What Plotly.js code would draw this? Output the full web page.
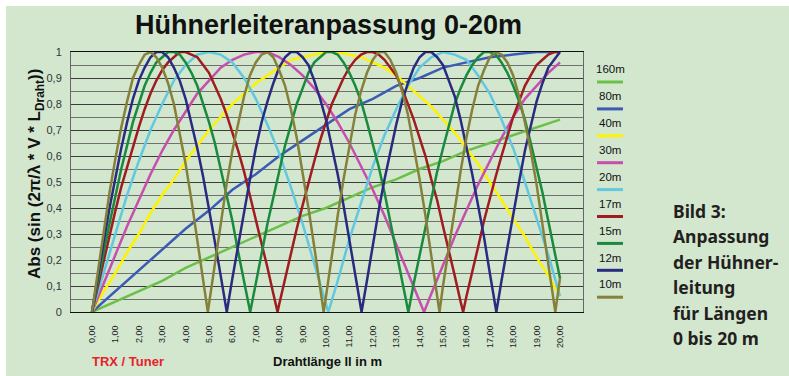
<!DOCTYPE html>
<html><head><meta charset="utf-8">
<script src="https://cdn.plot.ly/plotly-3.0.1.min.js"></script>
<style>
html,body{margin:0;padding:0;background:#ffffff;width:789px;height:376px;overflow:hidden}
#chart{position:absolute;left:6px;top:6px;width:783px;height:370px}
</style>
</head><body><div id="chart"></div><script>
// ---- data ----
const bands  = ['160m','80m','40m','30m','20m','17m','15m','12m','10m'];
const colors = ['#6cc04a','#3b5bb5','#fff200','#c64fae','#62c8e0','#a01c20','#1a8a3e','#2a2b80','#85803a'];

const xStep1 = [0,1,2,3,4,5,6,7,8,9,10,11,12,13,14,15,16,17,18,19,20];
const xStep05 = [0,0.5,1,1.5,2,2.5,3,3.5,4,4.5,5,5.5,6,6.5,7,7.5,8,8.5,9,9.5,10,10.5,11,11.5,12,12.5,13,13.5,14,14.5,15,15.5,16,16.5,17,17.5,18,18.5,19,19.5,20];
const xStep025 = [0,0.25,0.5,0.75,1,1.25,1.5,1.75,2,2.25,2.5,2.75,3,3.25,3.5,3.75,4,4.25,4.5,4.75,5,5.25,5.5,5.75,6,6.25,6.5,6.75,7,7.25,7.5,7.75,8,8.25,8.5,8.75,9,9.25,9.5,9.75,10,10.25,10.5,10.75,11,11.25,11.5,11.75,12,12.25,12.5,12.75,13,13.25,13.5,13.75,14,14.25,14.5,14.75,15,15.25,15.5,15.75,16,16.25,16.5,16.75,17,17.25,17.5,17.75,18,18.25,18.5,18.75,19,19.25,19.5,19.75,20];

const y160m = [0,0.04,0.08,0.12,0.17,0.21,0.25,0.29,0.33,0.37,0.40,0.44,0.48,0.51,0.55,0.58,0.62,0.65,0.68,0.71,0.74];
const y80m  = [0,0.08,0.16,0.24,0.32,0.39,0.47,0.53,0.60,0.66,0.72,0.78,0.82,0.87,0.90,0.94,0.96,0.98,0.99,1.00,1.00];
const y40m  = [0,0.08,0.15,0.23,0.30,0.38,0.45,0.51,0.58,0.64,0.70,0.75,0.80,0.84,0.88,0.91,0.94,0.97,0.98,0.99,
               1.00,1.00,0.99,0.98,0.96,0.94,0.91,0.87,0.83,0.79,0.74,0.69,0.63,0.57,0.50,0.43,0.36,0.29,0.21,0.14,0.06];
const y30m  = [0,0.11,0.22,0.33,0.43,0.53,0.62,0.70,0.77,0.84,0.89,0.94,0.97,0.99,1.00,1.00,0.98,0.95,0.91,0.86,
               0.80,0.73,0.65,0.56,0.47,0.37,0.26,0.15,0.04,0.07,0.18,0.29,0.39,0.49,0.58,0.67,0.75,0.82,0.87,0.92,0.96];
const y20m  = [0,0.15,0.31,0.45,0.58,0.70,0.80,0.89,0.95,0.99,1.00,0.99,0.96,0.90,0.82,0.72,0.61,0.48,0.34,0.19,
               0.03,0.12,0.28,0.42,0.56,0.68,0.78,0.87,0.94,0.98,1.00,0.99,0.97,0.91,0.84,0.74,0.63,0.50,0.36,0.22,0.06];
const y17m  = [0,0.10,0.20,0.29,0.39,0.48,0.56,0.64,0.71,0.78,0.84,0.89,0.93,0.96,0.98,1.00,1.00,0.99,0.98,0.95,
               0.92,0.87,0.82,0.76,0.69,0.62,0.54,0.45,0.36,0.27,0.17,0.07,0.03,0.13,0.22,0.32,0.41,0.50,0.58,0.66,
               0.73,0.80,0.85,0.90,0.94,0.97,0.99,1.00,1.00,0.99,0.97,0.94,0.91,0.86,0.80,0.74,0.67,0.60,0.51,0.43,
               0.33,0.24,0.14,0.04,0.06,0.15,0.25,0.35,0.44,0.52,0.60,0.68,0.75,0.81,0.87,0.91,0.95,0.97,0.99,1.00,1.00];
const y15m  = [0,0.12,0.23,0.34,0.45,0.55,0.64,0.73,0.80,0.87,0.92,0.96,0.98,1.00,1.00,0.99,0.96,0.92,0.87,0.80,
               0.73,0.65,0.55,0.45,0.35,0.23,0.12,0.00,0.11,0.23,0.34,0.44,0.54,0.64,0.72,0.80,0.86,0.92,0.96,0.98,
               1.00,1.00,0.99,0.96,0.92,0.87,0.81,0.73,0.65,0.56,0.46,0.35,0.24,0.12,0.01,0.11,0.22,0.33,0.44,0.54,
               0.63,0.72,0.80,0.86,0.91,0.95,0.98,1.00,1.00,0.99,0.96,0.92,0.87,0.81,0.74,0.65,0.56,0.46,0.35,0.24,0.13];
const y12m  = [0,0.14,0.27,0.40,0.52,0.63,0.73,0.82,0.89,0.94,0.98,1.00,1.00,0.98,0.94,0.89,0.82,0.73,0.63,0.52,
               0.40,0.27,0.14,0.01,0.13,0.26,0.39,0.51,0.63,0.73,0.81,0.88,0.94,0.98,1.00,1.00,0.98,0.95,0.89,0.82,
               0.74,0.64,0.53,0.41,0.28,0.15,0.01,0.12,0.26,0.39,0.51,0.62,0.72,0.81,0.88,0.94,0.98,1.00,1.00,0.98,
               0.95,0.89,0.83,0.74,0.64,0.53,0.41,0.29,0.15,0.02,0.12,0.25,0.38,0.50,0.62,0.72,0.81,0.88,0.94,0.97,1.00];
const y10m  = [0,0.16,0.31,0.46,0.59,0.71,0.81,0.90,0.95,0.99,1.00,0.98,0.94,0.88,0.80,0.69,0.57,0.43,0.28,0.13,
               0.03,0.19,0.34,0.49,0.62,0.73,0.83,0.91,0.96,0.99,1.00,0.98,0.93,0.87,0.78,0.67,0.54,0.40,0.25,0.10,
               0.06,0.22,0.37,0.51,0.64,0.76,0.85,0.92,0.97,1.00,1.00,0.97,0.92,0.85,0.76,0.64,0.51,0.37,0.22,0.06,
               0.10,0.25,0.40,0.54,0.67,0.78,0.87,0.93,0.98,1.00,0.99,0.96,0.91,0.83,0.73,0.62,0.49,0.34,0.19,0.03,0.13];

// lengths where the curve touches zero (value 0)
const zeros160m = [];
const zeros80m  = [];
const zeros40m  = [];
const zeros30m  = [14.19];
const zeros20m  = [10.10];
const zeros17m  = [7.93, 15.86];
const zeros15m  = [6.76, 13.52];
const zeros12m  = [5.76, 11.52, 17.28];
const zeros10m  = [4.95, 9.90, 14.85, 19.80];

const xTickVals = [0,1,2,3,4,5,6,7,8,9,10,11,12,13,14,15,16,17,18,19,20];
const xTickText = ['0,00','1,00','2,00','3,00','4,00','5,00','6,00','7,00','8,00','9,00','10,00','11,00','12,00','13,00','14,00','15,00','16,00','17,00','18,00','19,00','20,00'];
const yTickVals = [0,0.1,0.2,0.3,0.4,0.5,0.6,0.7,0.8,0.9,1];
const yTickText = ['0','0,1','0,2','0,3','0,4','0,5','0,6','0,7','0,8','0,9','1'];
const yMinorVals = [0.05,0.15,0.25,0.35,0.45,0.55,0.65,0.75,0.85,0.95];

const titleText = 'Hühnerleiteranpassung 0-20m';
const yTitleText = 'Abs (sin (2π/λ * V * L<sub>Draht</sub>))';
const xTitleText = 'Drahtlänge ll in m';
const sourceText = 'TRX / Tuner';
const captionLines = ['Bild 3:','Anpassung','der Hühner-','leitung','für Längen','0 bis 20 m'];

// ---- build traces ----
function merge(xs, ys, zs){
  const pts = xs.map((x,i)=>[x, ys[i]]).concat(zs.map(z=>[z,0]));
  pts.sort((a,b)=>a[0]-b[0]);
  return {x: pts.map(p=>p[0]), y: pts.map(p=>p[1])};
}
const series = [
  merge(xStep1,  y160m, zeros160m),
  merge(xStep1,  y80m,  zeros80m),
  merge(xStep05, y40m,  zeros40m),
  merge(xStep05, y30m,  zeros30m),
  merge(xStep05, y20m,  zeros20m),
  merge(xStep025,y17m,  zeros17m),
  merge(xStep025,y15m,  zeros15m),
  merge(xStep025,y12m,  zeros12m),
  merge(xStep025,y10m,  zeros10m)
];
const traces = series.map((s,i)=>({
  type:'scatter', mode:'lines', x:s.x, y:s.y, name:bands[i],
  line:{color:colors[i], width:2.5}, hoverinfo:'skip', showlegend:false
}));

// ---- layout geometry (page pixels -> paper) ----
const OFF = 6, ML = 65, MR = 206, MT = 46, MB = 64, W = 783, H = 370;
const PW = W-ML-MR, PH = H-MT-MB;
const px = x => (x-OFF-ML)/PW;
const py = y => 1-(y-OFF-MT)/PH;
const SANS = 'Liberation Sans, Arial, sans-serif';

const annotations = [
  {text:titleText, x:px(328.5), y:py(25), font:{family:SANS,size:27,weight:'bold',color:'#111'}},
  {text:yTitleText, x:px(36), y:py(174), textangle:-90, font:{family:SANS,size:17,weight:'bold',color:'#111'}},
  {text:xTitleText, x:px(327), y:py(361), font:{family:SANS,size:13,weight:'bold',color:'#111'}},
  {text:sourceText, x:px(127.5), y:py(361), font:{family:SANS,size:13,weight:'bold',color:'#e8202a'}}
];
const shapes = [];
bands.forEach((b,i)=>{
  annotations.push({text:b, x:px(610), y:py(69.2+26.9*i), font:{family:SANS,size:11.5,color:'#111'}});
  shapes.push({type:'line', xref:'paper', yref:'paper', x0:px(597), x1:px(623), y0:py(82+26.9*i), y1:py(82+26.9*i),
               line:{color:colors[i], width:3}});
});
captionLines.forEach((t,i)=>{
  annotations.push({text:t, x:px(671), y:py(210.5+25.5*i), xanchor:'left',
    font:{family:'Noto Sans, DejaVu Sans, sans-serif',size:17.5,weight:'bold',color:'#231f20'}});
});
annotations.forEach(a=>{
  a.xref='paper'; a.yref='paper'; a.showarrow=false;
  if(!a.xanchor) a.xanchor='center'; a.yanchor='middle';
});

const layout = {
  width:W, height:H,
  margin:{l:ML, r:MR, t:MT, b:MB, pad:0},
  paper_bgcolor:'#d3e7cf', plot_bgcolor:'#d3e7cf',
  showlegend:false,
  font:{family:SANS, color:'#222'},
  xaxis:{
    range:[-0.897, 20.983], tickmode:'array', tickvals:xTickVals, ticktext:xTickText,
    tickangle:-90, tickfont:{family:SANS,size:9,color:'#222'},
    showgrid:false, zeroline:false, showline:true, linecolor:'#111', linewidth:1, mirror:true,
    ticks:'', ticklen:0, ticklabelstandoff:9, fixedrange:true
  },
  yaxis:{
    range:[0,1], tickmode:'array', tickvals:yTickVals, ticktext:yTickText,
    tickfont:{family:SANS,size:11,color:'#333'},
    showgrid:true, gridcolor:'#3c3c3c', gridwidth:1,
    minor:{tickmode:'array', tickvals:yMinorVals, showgrid:true, gridcolor:'#707070', gridwidth:1, ticks:''},
    zeroline:false, showline:true, linecolor:'#666', linewidth:1, mirror:true,
    ticks:'', ticklen:0, ticklabelstandoff:6, fixedrange:true
  },
  annotations:annotations,
  shapes:shapes
};
Plotly.newPlot('chart', traces, layout, {staticPlot:true, displayModeBar:false});
</script></body></html>
